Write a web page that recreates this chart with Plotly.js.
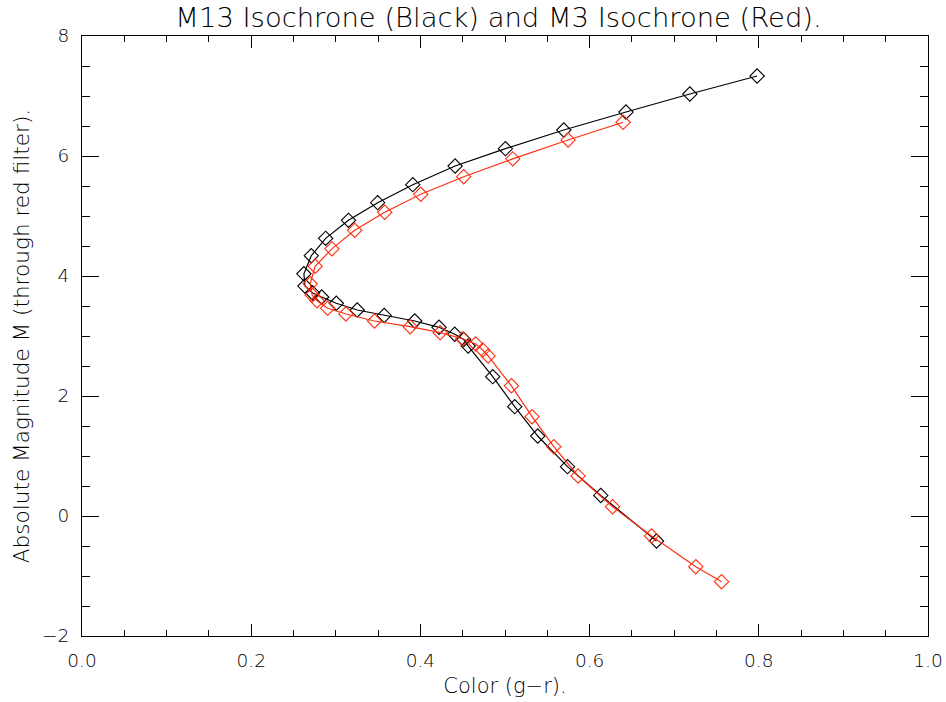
<!DOCTYPE html>
<html>
<head>
<meta charset="utf-8">
<script src="https://cdn.plot.ly/plotly-3.0.1.min.js"></script>
<style>
  html, body { margin: 0; padding: 0; background: #ffffff; }
  #chart { width: 946px; height: 702px; }
</style>
</head>
<body>
<div id="chart"></div>
<script>
// M13 isochrone: colour (g-r) and absolute magnitude, red giant branch down to main sequence
const m13Color = [0.798, 0.7185, 0.643, 0.5695, 0.5005, 0.441, 0.391, 0.3495, 0.315, 0.288,
                  0.271, 0.2623, 0.2635, 0.2726, 0.2833, 0.3006, 0.3253, 0.3572, 0.3933, 0.422,
                  0.4406, 0.4512, 0.4565, 0.4855, 0.5115, 0.5387, 0.5739, 0.6132, 0.6791];
const m13Mag   = [7.333, 7.033, 6.733, 6.433, 6.122, 5.833, 5.522, 5.222, 4.928, 4.628,
                  4.338, 4.037, 3.833, 3.717, 3.65, 3.545, 3.433, 3.342, 3.25, 3.145,
                  3.03, 2.942, 2.833, 2.322, 1.822, 1.333, 0.822, 0.342, -0.417];

// M3 isochrone
const m3Color = [0.6396, 0.5746, 0.5092, 0.4512, 0.4004, 0.3578, 0.3223, 0.2954, 0.2756, 0.2697,
                 0.272, 0.2779, 0.2904, 0.312, 0.3457, 0.3879, 0.4234, 0.45, 0.4654, 0.4737,
                 0.48, 0.5076, 0.532, 0.5577, 0.5864, 0.6271, 0.6732, 0.7256, 0.756];
const m3Mag   = [6.562, 6.267, 5.953, 5.655, 5.362, 5.062, 4.762, 4.453, 4.162, 3.87,
                 3.683, 3.587, 3.462, 3.367, 3.25, 3.155, 3.055, 2.955, 2.867, 2.767,
                 2.667, 2.17, 1.655, 1.155, 0.667, 0.155, -0.333, -0.845, -1.095];

const xTickVals = [0.0, 0.2, 0.4, 0.6, 0.8, 1.0];
const xTickText = ['0.0', '0.2', '0.4', '0.6', '0.8', '1.0'];
const yTickVals = [-2, 0, 2, 4, 6, 8];
const yTickText = ['\u22122', '0', '2', '4', '6', '8'];

const FONT = 'DejaVu Sans, sans-serif';
const LIGHT = 200;

const traces = [
  {
    x: m13Color, y: m13Mag, type: 'scatter', mode: 'lines+markers', name: 'M13',
    line: { color: '#000000', width: 1.2 },
    marker: { symbol: 'diamond-open', size: 11, color: '#000000', line: { width: 1.1, color: '#000000' } }
  },
  {
    x: m3Color, y: m3Mag, type: 'scatter', mode: 'lines+markers', name: 'M3',
    line: { color: '#ff3010', width: 1.2 },
    marker: { symbol: 'diamond-open', size: 11, color: '#ff3010', line: { width: 1.1, color: '#ff3010' } }
  }
];

const axisCommon = {
  showgrid: false, zeroline: false, showline: true, linecolor: '#000000', linewidth: 1,
  mirror: 'allticks', ticks: 'inside', tickcolor: '#000000', tickwidth: 1,
  tickfont: { family: FONT, size: 18.5, color: '#000000', weight: LIGHT }
};

const layout = {
  width: 946, height: 702,
  margin: { l: 82, r: 18, t: 36, b: 66 },
  paper_bgcolor: '#ffffff', plot_bgcolor: '#ffffff',
  showlegend: false,
  title: {
    text: 'M13 Isochrone (Black) and M3 Isochrone (Red).',
    font: { family: FONT, size: 27.4, color: '#000000', weight: LIGHT },
    x: 0.527, xanchor: 'center', y: 0.975, yanchor: 'middle'
  },
  xaxis: Object.assign({}, axisCommon, {
    range: [0, 1], tickmode: 'array', tickvals: xTickVals, ticktext: xTickText,
    ticklen: 12, ticklabelstandoff: 8,
    minor: { dtick: 0.05, ticks: 'inside', ticklen: 6, tickcolor: '#000000', tickwidth: 1, showgrid: false },
    title: { text: 'Color (g\u2212r).', font: { family: FONT, size: 21, color: '#000000', weight: LIGHT }, standoff: 8 }
  }),
  yaxis: Object.assign({}, axisCommon, {
    range: [-2, 8], tickmode: 'array', tickvals: yTickVals, ticktext: yTickText,
    ticklen: 17, ticklabelstandoff: 8,
    minor: { dtick: 0.5, ticks: 'inside', ticklen: 8, tickcolor: '#000000', tickwidth: 1, showgrid: false },
    title: { text: 'Absolute Magnitude M (through red filter).', font: { family: FONT, size: 21.6, color: '#000000', weight: LIGHT }, standoff: 6 }
  })
};

Plotly.newPlot('chart', traces, layout, { staticPlot: true, displayModeBar: false });
</script>
</body>
</html>
